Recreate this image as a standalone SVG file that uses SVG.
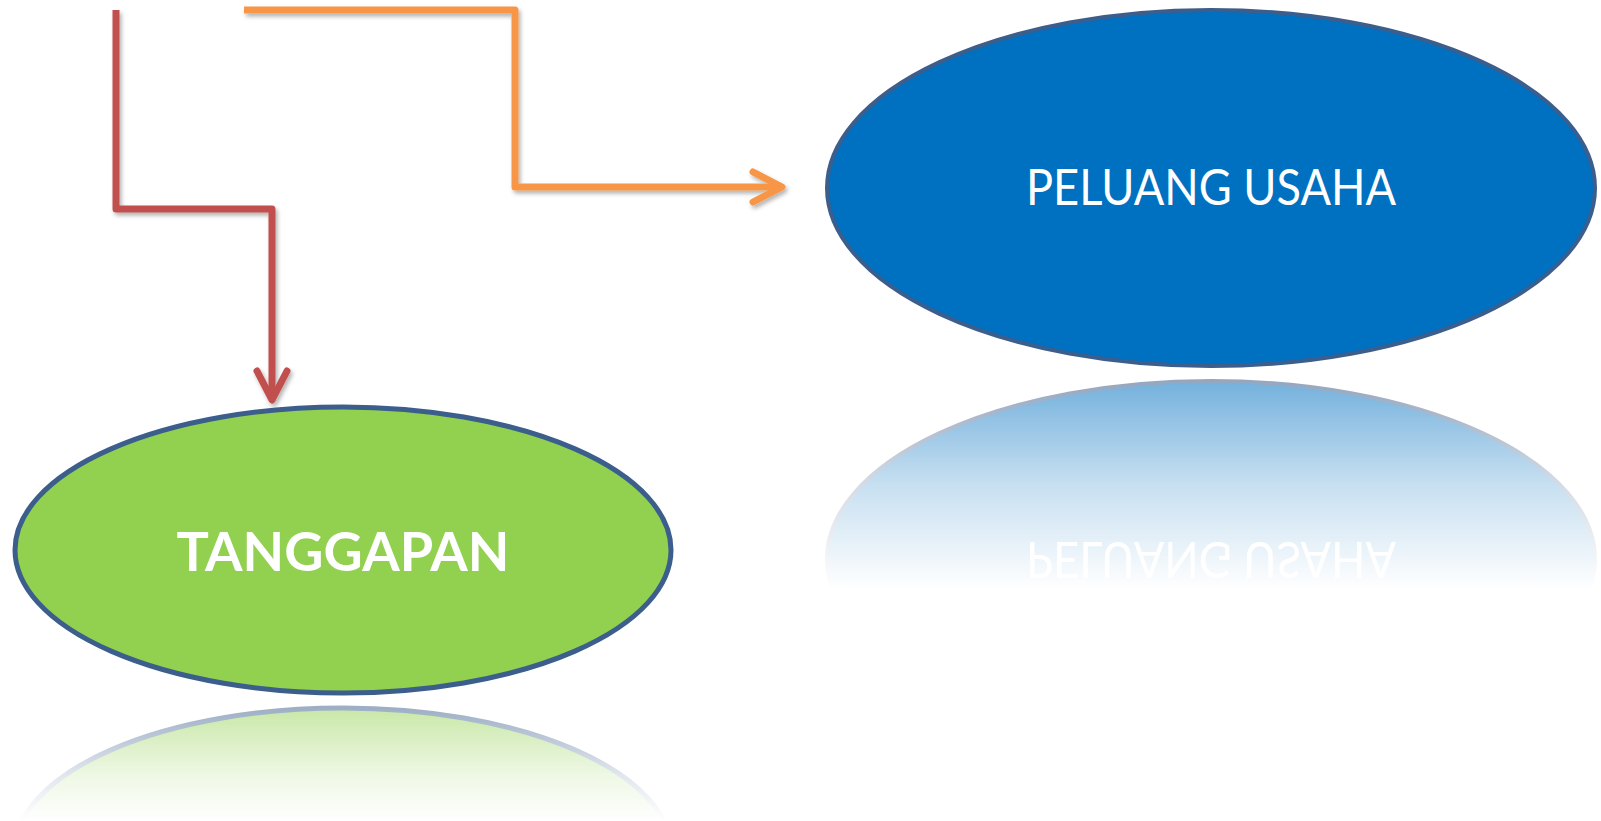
<svg xmlns="http://www.w3.org/2000/svg" width="1601" height="821" viewBox="0 0 1601 821">
<style>
.conn{fill:none;stroke-width:7;stroke-linejoin:round;stroke-linecap:butt;filter:url(#shadow)}
.red{stroke:#c0504d}
.orange{stroke:#f79646}
.node-shape{stroke:#3b5e8c}
.lbl{fill:#ffffff;font-family:Lato,"Open Sans","Liberation Sans",sans-serif;text-anchor:middle}
</style>
<defs>
<filter id="shadow" x="-20%" y="-20%" width="140%" height="140%">
<feDropShadow dx="2" dy="3" stdDeviation="2" flood-color="#000" flood-opacity="0.3"/>
</filter>
<marker id="arrRed" markerUnits="userSpaceOnUse" markerWidth="60" markerHeight="60" refX="0" refY="0" orient="auto" overflow="visible">
<path d="M-29,-15 L0,0 L-29,15" fill="none" stroke="#c0504d" stroke-width="7" stroke-linecap="round" stroke-linejoin="round"/>
</marker>
<marker id="arrOrange" markerUnits="userSpaceOnUse" markerWidth="60" markerHeight="60" refX="0" refY="0" orient="auto" overflow="visible">
<path d="M-29,-15 L0,0 L-29,15" fill="none" stroke="#f79646" stroke-width="7" stroke-linecap="round" stroke-linejoin="round"/>
</marker>
<linearGradient id="fadeBlue" gradientUnits="userSpaceOnUse" x1="0" y1="380" x2="0" y2="590">
<stop offset="0" stop-color="#fff" stop-opacity="0.55"/>
<stop offset="0.5" stop-color="#fff" stop-opacity="0.22"/>
<stop offset="1" stop-color="#fff" stop-opacity="0"/>
</linearGradient>
<linearGradient id="fadeGreen" gradientUnits="userSpaceOnUse" x1="0" y1="708" x2="0" y2="821">
<stop offset="0" stop-color="#fff" stop-opacity="0.5"/>
<stop offset="0.6" stop-color="#fff" stop-opacity="0.15"/>
<stop offset="1" stop-color="#fff" stop-opacity="0"/>
</linearGradient>
<mask id="mBlue" maskUnits="userSpaceOnUse" x="800" y="370" width="801" height="240">
<rect x="800" y="370" width="801" height="240" fill="url(#fadeBlue)"/>
</mask>
<mask id="mGreen" maskUnits="userSpaceOnUse" x="0" y="700" width="700" height="121">
<rect x="0" y="700" width="700" height="121" fill="url(#fadeGreen)"/>
</mask>
</defs>

<g id="connectors">
<path class="conn red" d="M116,10 V209 H272 V400" marker-end="url(#arrRed)"/>
<path class="conn orange" d="M244,10 H515 V187 H782" marker-end="url(#arrOrange)"/>
</g>

<g id="node-peluang-usaha">
<ellipse class="node-shape" cx="1211" cy="188" rx="384" ry="178" fill="#0070c0" stroke-width="4"/>
<text class="lbl" x="1211" y="205" font-size="50" textLength="370" lengthAdjust="spacingAndGlyphs">PELUANG USAHA</text>
</g>

<g id="reflection-peluang-usaha" mask="url(#mBlue)">
<g transform="translate(0,747) scale(1,-1)">
<ellipse class="node-shape" cx="1211" cy="188" rx="384" ry="178" fill="#0070c0" stroke-width="4"/>
<text class="lbl" x="1211" y="205" font-size="50" textLength="370" lengthAdjust="spacingAndGlyphs">PELUANG USAHA</text>
</g>
</g>

<g id="node-tanggapan">
<ellipse class="node-shape" cx="343" cy="550" rx="328" ry="143" fill="#92d050" stroke-width="5"/>
<text class="lbl" x="343" y="571" font-size="54" font-weight="bold">TANGGAPAN</text>
</g>

<g id="reflection-tanggapan" mask="url(#mGreen)">
<g transform="translate(0,1401) scale(1,-1)">
<ellipse class="node-shape" cx="343" cy="550" rx="328" ry="143" fill="#92d050" stroke-width="5"/>
</g>
</g>
</svg>
